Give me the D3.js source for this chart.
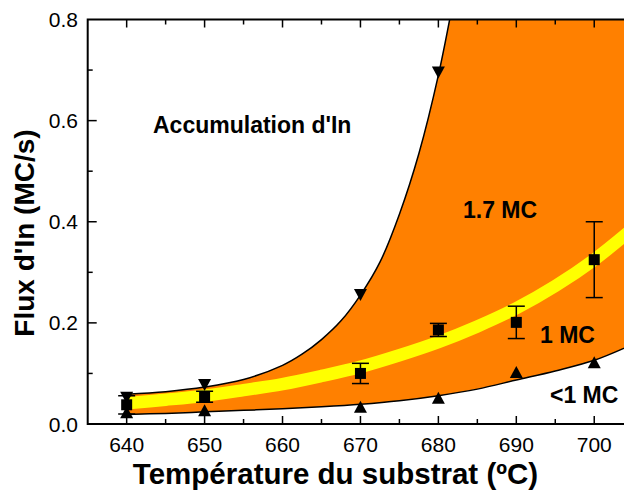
<!DOCTYPE html>
<html>
<head>
<meta charset="utf-8">
<script src="https://cdn.jsdelivr.net/npm/d3@7/dist/d3.min.js"></script>
<style>
  html, body { margin: 0; padding: 0; background: #fff; }
  svg { display: block; font-family: "Liberation Sans", Arial, sans-serif; }
</style>
</head>
<body>
<svg id="chart" width="624" height="496"></svg>
<script>
// Substrate temperature (ºC) of the measured points
const temps = [640, 650, 670, 680, 690, 700];
// 1 MC flux with its error bars (MC/s)
const fluxOneMC = [0.038, 0.054, 0.100, 0.186, 0.201, 0.325];
const fluxOneMCErr = [0.018, 0.011, 0.020, 0.013, 0.032, 0.075];
// Lower limit (<1 MC) points
const fluxLowerPts = [0.023, 0.027, 0.034, 0.052, 0.103, 0.122];
// Upper limit (In accumulation onset) points
const upperTemps = [640, 650, 670, 680];
const fluxUpperPts = [0.052, 0.077, 0.255, 0.695];

// Boundary curves
const lowerCurveT = [640, 645, 650, 655, 660, 665, 670, 675, 680, 685, 690, 695, 700, 705];
const lowerCurveF = [0.019, 0.021, 0.024, 0.027, 0.030, 0.034, 0.039, 0.046, 0.056, 0.069, 0.087, 0.105, 0.126, 0.158];
const midCurveT = [640, 645, 650, 655, 660, 665, 670, 675, 680, 685, 690, 695, 700, 705];
const midCurveF = [0.041, 0.048, 0.056, 0.067, 0.079, 0.095, 0.113, 0.136, 0.162, 0.193, 0.229, 0.273, 0.325, 0.387];
const upperCurveT = [640, 645, 650, 655, 660, 662.5, 665, 667.5, 670, 672.5, 675, 677.5, 680, 682];
const upperCurveF = [0.059, 0.064, 0.073, 0.088, 0.116, 0.138, 0.167, 0.204, 0.255, 0.32, 0.415, 0.535, 0.69, 0.845];

const xTicks = [640, 650, 660, 670, 680, 690, 700];
const yTicks = [0.0, 0.2, 0.4, 0.6, 0.8];

const svg = d3.select("#chart");
const x = d3.scaleLinear().domain([635, 705]).range([87.7, 633.2]);
const y = d3.scaleLinear().domain([0, 0.8]).range([424, 19.5]);
const yMax = y.domain()[1];
const [xMin, xMax] = x.domain();

const zip = (a, b) => a.map((v, i) => [v, b[i]]);
const lowerPts = zip(lowerCurveT, lowerCurveF);
const midPts = zip(midCurveT, midCurveF);
const upperPts = zip(upperCurveT, upperCurveF);

const curve = d3.curveCatmullRom.alpha(0.5);
const line = d3.line().curve(curve).x(d => x(d[0])).y(d => y(d[1]));

const defs = svg.append("defs");
defs.append("clipPath").attr("id", "plot")
  .append("rect")
  .attr("x", x(xMin)).attr("y", y(yMax))
  .attr("width", x(xMax) - x(xMin)).attr("height", y(0) - y(yMax));
// Everything below the upper boundary (open above once it leaves the frame)
defs.append("clipPath").attr("id", "below-upper")
  .append("path")
  .attr("d", line(upperPts) +
    `L${x(xMax)},${y(yMax) - 20}L${x(xMax)},${y(0)}L${x(upperCurveT[0])},${y(0)}Z`);

const plot = svg.append("g").attr("clip-path", "url(#plot)");

// Orange region between the two boundaries
plot.append("g").attr("clip-path", "url(#below-upper)")
  .append("path")
  .attr("d", d3.area().curve(curve).x(d => x(d[0])).y0(d => y(d[1])).y1(y(yMax) - 20)(lowerPts))
  .attr("fill", "#ff8000");

// Yellow 1 MC band
plot.append("path")
  .attr("d", line(midPts))
  .attr("fill", "none").attr("stroke", "#ffff00").attr("stroke-width", 12.5);

// Boundary lines
plot.append("path").attr("d", line(lowerPts))
  .attr("fill", "none").attr("stroke", "#000").attr("stroke-width", 1.5);
plot.append("path").attr("d", line(upperPts))
  .attr("fill", "none").attr("stroke", "#000").attr("stroke-width", 1.5);

// Error bars
const eb = plot.append("g").attr("stroke", "#000").attr("stroke-width", 1.5);
temps.forEach((t, i) => {
  const lo = fluxOneMC[i] - fluxOneMCErr[i], hi = fluxOneMC[i] + fluxOneMCErr[i];
  eb.append("line").attr("x1", x(t)).attr("x2", x(t)).attr("y1", y(lo)).attr("y2", y(hi));
  eb.append("line").attr("x1", x(t) - 8.5).attr("x2", x(t) + 8.5).attr("y1", y(lo)).attr("y2", y(lo));
  eb.append("line").attr("x1", x(t) - 8.5).attr("x2", x(t) + 8.5).attr("y1", y(hi)).attr("y2", y(hi));
});

// Square markers
const sq = 11;
plot.selectAll("rect.sq").data(zip(temps, fluxOneMC)).join("rect")
  .attr("class", "sq")
  .attr("x", d => x(d[0]) - sq / 2).attr("y", d => y(d[1]) - sq / 2)
  .attr("width", sq).attr("height", sq).attr("fill", "#000");

// Triangle markers
const tw = 13, th = 12;
plot.selectAll("path.up").data(zip(temps, fluxLowerPts)).join("path")
  .attr("class", "up")
  .attr("d", d => {
    const cx = x(d[0]), cy = y(d[1]);
    return `M${cx},${cy - th / 2}L${cx + tw / 2},${cy + th / 2}L${cx - tw / 2},${cy + th / 2}Z`;
  })
  .attr("fill", "#000");
plot.selectAll("path.down").data(zip(upperTemps, fluxUpperPts)).join("path")
  .attr("class", "down")
  .attr("d", d => {
    const cx = x(d[0]), cy = y(d[1]);
    return `M${cx - tw / 2},${cy - th / 2}L${cx + tw / 2},${cy - th / 2}L${cx},${cy + th / 2}Z`;
  })
  .attr("fill", "#000");

// Axes frame
svg.append("rect")
  .attr("x", x(xMin)).attr("y", y(yMax))
  .attr("width", x(xMax) - x(xMin)).attr("height", y(0) - y(yMax))
  .attr("fill", "none").attr("stroke", "#000").attr("stroke-width", 2);

// Ticks (pointing inward)
const ticks = svg.append("g").attr("stroke", "#000").attr("stroke-width", 1.5);
d3.range(640, xMax, 5).forEach(t => {
  const len = t % 10 === 0 ? 8 : 5;
  ticks.append("line").attr("x1", x(t)).attr("x2", x(t)).attr("y1", y(0)).attr("y2", y(0) - len);
  ticks.append("line").attr("x1", x(t)).attr("x2", x(t)).attr("y1", y(yMax)).attr("y2", y(yMax) + len);
});
d3.range(1, 8).map(k => k / 10).forEach(v => {
  const len = (Math.round(v * 10) % 2 === 0) ? 9 : 5;
  ticks.append("line").attr("x1", x(xMin)).attr("x2", x(xMin) + len).attr("y1", y(v)).attr("y2", y(v));
});

// Tick labels
svg.append("g").selectAll("text").data(xTicks).join("text")
  .attr("x", d => x(d)).attr("y", 452)
  .attr("text-anchor", "middle").attr("font-size", 21).attr("fill", "#000")
  .text(d => d3.format("d")(d));
svg.append("g").selectAll("text").data(yTicks).join("text")
  .attr("x", 78).attr("y", d => y(d) + 7.5)
  .attr("text-anchor", "end").attr("font-size", 21).attr("fill", "#000")
  .text(d => d3.format(".1f")(d));

// Axis titles
svg.append("text")
  .attr("x", 335.5).attr("y", 484)
  .attr("text-anchor", "middle").attr("font-size", 29.5).attr("font-weight", "bold")
  .text("Température du substrat (ºC)");
svg.append("text")
  .attr("transform", "translate(33.5,233) rotate(-90)")
  .attr("text-anchor", "middle").attr("font-size", 28).attr("font-weight", "bold")
  .text("Flux d'In (MC/s)");

// Region labels
const labels = svg.append("g").attr("font-size", 23).attr("font-weight", "bold").attr("fill", "#000");
labels.append("text").attr("x", 153).attr("y", 133.3).text("Accumulation d'In");
labels.append("text").attr("x", 463).attr("y", 218.3).text("1.7 MC");
labels.append("text").attr("x", 540).attr("y", 343.3).text("1 MC");
labels.append("text").attr("x", 550).attr("y", 403.3).text("<1 MC");
</script>
</body>
</html>
